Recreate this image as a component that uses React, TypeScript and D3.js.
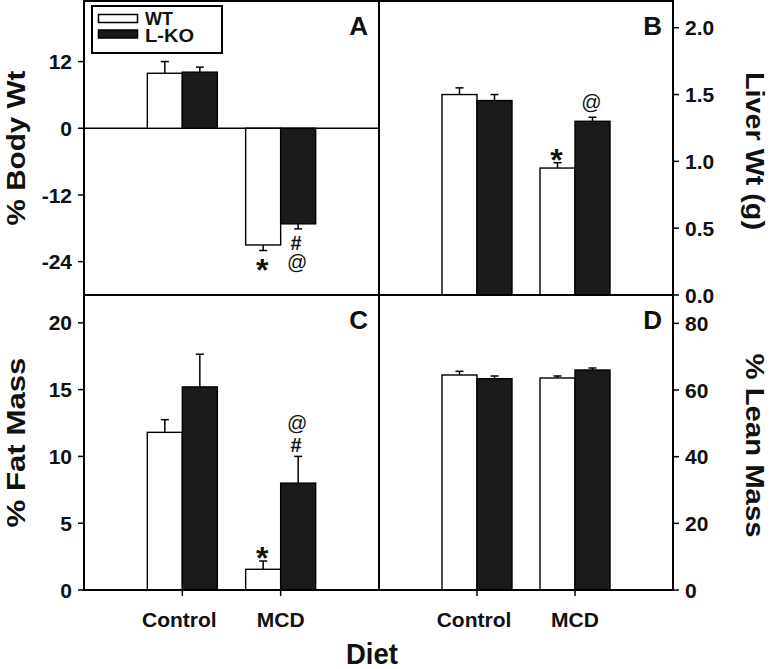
import React from "react";
import * as d3 from "d3";

// ---------- DATA ----------
const categories = ["Control", "MCD"];
const seriesNames = ["WT", "L-KO"];

const bodyWtWT = [9.9, -21.0];
const bodyWtWTErr = [2.1, 1.0];
const bodyWtKO = [10.1, -17.2];
const bodyWtKOErr = [0.9, 0.9];

const liverWT = [1.5, 0.95];
const liverWTErr = [0.05, 0.04];
const liverKO = [1.455, 1.3];
const liverKOErr = [0.045, 0.03];

const fatWT = [11.8, 1.55];
const fatWTErr = [0.95, 0.62];
const fatKO = [15.2, 8.0];
const fatKOErr = [2.45, 2.0];

const leanWT = [64.5, 63.6];
const leanWTErr = [1.1, 0.6];
const leanKO = [63.4, 66.0];
const leanKOErr = [0.8, 0.6];

const bodyTicks = [-24, -12, 0, 12];
const bodyTickLabels = ["-24", "-12", "0", "12"];
const liverTicks = [0, 0.5, 1, 1.5, 2];
const liverTickLabels = ["0.0", "0.5", "1.0", "1.5", "2.0"];
const fatTicks = [0, 5, 10, 15, 20];
const fatTickLabels = ["0", "5", "10", "15", "20"];
const leanTicks = [0, 20, 40, 60, 80];
const leanTickLabels = ["0", "20", "40", "60", "80"];

// significance marks: category index, series index, symbols (outward order)
const marksA = [
  { cat: 1, ser: 0, syms: ["*"] },
  { cat: 1, ser: 1, syms: ["#", "@"] },
];
const marksB = [
  { cat: 1, ser: 0, syms: ["*"] },
  { cat: 1, ser: 1, syms: ["@"] },
];
const marksC = [
  { cat: 1, ser: 0, syms: ["*"] },
  { cat: 1, ser: 1, syms: ["#", "@"] },
];
const marksD: { cat: number; ser: number; syms: string[] }[] = [];

// ---------- LAYOUT ----------
const W = 771;
const H = 669;
const FONT = "'Liberation Sans', Arial, Helvetica, sans-serif";
const XL = 84;
const XM = 379;
const XR = 673;
const YT = 1;
const YM = 295;
const YB = 590;
const BAR_W = 35;
const DARK = "#1a1a1a";

type Panel = {
  id: string;
  x0: number;
  x1: number;
  y0: number;
  y1: number;
  domain: [number, number];
  ticks: number[];
  tickLabels: string[];
  side: "left" | "right";
  wt: number[];
  wtErr: number[];
  ko: number[];
  koErr: number[];
  title: string;
  titleLen: number;
  marks: { cat: number; ser: number; syms: string[] }[];
  bottom: boolean;
};

const panels: Panel[] = [
  {
    id: "A", x0: XL, x1: XM, y0: YT, y1: YM, domain: [-30, 22.9],
    ticks: bodyTicks, tickLabels: bodyTickLabels, side: "left",
    wt: bodyWtWT, wtErr: bodyWtWTErr, ko: bodyWtKO, koErr: bodyWtKOErr,
    title: "% Body Wt", titleLen: 155, marks: marksA, bottom: false,
  },
  {
    id: "B", x0: XM, x1: XR, y0: YT, y1: YM, domain: [0, 2.2],
    ticks: liverTicks, tickLabels: liverTickLabels, side: "right",
    wt: liverWT, wtErr: liverWTErr, ko: liverKO, koErr: liverKOErr,
    title: "Liver Wt (g)", titleLen: 158, marks: marksB, bottom: false,
  },
  {
    id: "C", x0: XL, x1: XM, y0: YM, y1: YB, domain: [0, 22.08],
    ticks: fatTicks, tickLabels: fatTickLabels, side: "left",
    wt: fatWT, wtErr: fatWTErr, ko: fatKO, koErr: fatKOErr,
    title: "% Fat Mass", titleLen: 170, marks: marksC, bottom: true,
  },
  {
    id: "D", x0: XM, x1: XR, y0: YM, y1: YB, domain: [0, 88.5],
    ticks: leanTicks, tickLabels: leanTickLabels, side: "right",
    wt: leanWT, wtErr: leanWTErr, ko: leanKO, koErr: leanKOErr,
    title: "% Lean Mass", titleLen: 184, marks: marksD, bottom: true,
  },
];

function PanelView({ p }: { p: Panel }) {
  const x = d3.scalePoint<string>().domain(categories).range([p.x0, p.x1]).padding(1);
  const y = d3.scaleLinear().domain(p.domain).range([p.y1, p.y0]);
  const y0 = y(0);
  const series = [
    { vals: p.wt, errs: p.wtErr, fill: "#ffffff" },
    { vals: p.ko, errs: p.koErr, fill: DARK },
  ];
  const items: React.ReactNode[] = [];
  series.forEach((s, si) => {
    categories.forEach((c, ci) => {
      const cx = x(c)!;
      const bx = si === 0 ? cx - BAR_W : cx;
      const v = s.vals[ci];
      const e = s.errs[ci];
      const yv = y(v);
      const ye = v >= 0 ? y(v + e) : y(v - e);
      const mid = bx + BAR_W / 2;
      items.push(
        <g key={`b${si}${ci}`}>
          <line x1={mid} x2={mid} y1={yv} y2={ye} stroke="#000" strokeWidth={1.5} />
          <line x1={mid - 4} x2={mid + 4} y1={ye} y2={ye} stroke="#000" strokeWidth={1.5} />
          <rect
            x={bx}
            y={Math.min(yv, y0)}
            width={BAR_W}
            height={Math.abs(yv - y0)}
            fill={s.fill}
            stroke="#000"
            strokeWidth={1.4}
          />
        </g>
      );
    });
  });

  const marks: React.ReactNode[] = [];
  p.marks.forEach((m, mi) => {
    const s = series[m.ser];
    const cx = x(categories[m.cat])!;
    const bx = m.ser === 0 ? cx - BAR_W : cx;
    const mid = bx + BAR_W / 2;
    const v = s.vals[m.cat];
    const e = s.errs[m.cat];
    const neg = v < 0;
    const ye = neg ? y(v - e) : y(v + e);
    let edge = ye;
    const gap = neg ? 7 : 4;
    m.syms.forEach((sym, k) => {
      let fs = 20;
      let weight: any = "bold";
      let top = 0.72;
      let bot = 0;
      if (sym === "*") {
        fs = 32;
        top = 0.74;
        bot = 0.38;
      } else if (sym === "@") {
        fs = 20;
        weight = "normal";
        top = 0.74;
        bot = -0.2;
      }
      const g = k === 0 ? gap : 4;
      let baseline;
      if (neg) {
        const glyphTop = edge + g;
        baseline = glyphTop + top * fs;
        edge = baseline - bot * fs;
      } else {
        const glyphBottom = edge - g;
        baseline = glyphBottom + bot * fs;
        edge = baseline - top * fs;
      }
      const dx = sym === "*" ? -1 : sym === "#" ? -2 : -1;
      marks.push(
        <text
          key={`m${mi}${k}`}
          x={mid + dx}
          y={baseline}
          textAnchor="middle"
          fontSize={fs}
          fontWeight={weight}
          fontFamily={FONT}
          fill="#111"
        >
          {sym}
        </text>
      );
    });
  });

  const axisX = p.side === "left" ? p.x0 : p.x1;
  const dir = p.side === "left" ? -1 : 1;
  const titleX = p.side === "left" ? 25 : 746;
  const titleY = (p.y0 + p.y1) / 2 + (p.side === "left" ? 0 : 3);

  return (
    <g>
      {p.id === "A" && (
        <line x1={p.x0} x2={p.x1} y1={y0} y2={y0} stroke="#000" strokeWidth={1.5} />
      )}
      {items}
      {marks}
      {p.ticks.map((t, i) => (
        <g key={`t${i}`}>
          <line x1={axisX} x2={axisX + dir * 6} y1={y(t)} y2={y(t)} stroke="#000" strokeWidth={1.5} />
          <text
            x={axisX + dir * 12}
            y={y(t)}
            dy="0.36em"
            textAnchor={p.side === "left" ? "end" : "start"}
            fontSize={21}
            fontWeight="bold"
            fontFamily={FONT}
            fill="#111"
          >
            {p.tickLabels[i]}
          </text>
        </g>
      ))}
      {p.bottom &&
        categories.map((c) => (
          <g key={c}>
            <line x1={x(c)!} x2={x(c)!} y1={p.y1} y2={p.y1 + 6} stroke="#000" strokeWidth={1.5} />
            <text
              x={x(c)! - (c === "Control" ? 3 : 0)}
              y={627}
              textAnchor="middle"
              fontSize={21}
              fontWeight="bold"
              fontFamily={FONT}
              fill="#111"
            >
              {c}
            </text>
          </g>
        ))}
      <text
        x={p.x1 - 11}
        y={p.y0 + 34}
        textAnchor="end"
        fontSize={26}
        fontWeight="bold"
        fontFamily={FONT}
        fill="#111"
      >
        {p.id}
      </text>
      <text
        transform={`translate(${titleX},${titleY}) rotate(${p.side === "left" ? -90 : 90})`}
        textAnchor="middle"
        fontSize={25}
        fontWeight="bold"
        fontFamily={FONT}
        textLength={p.titleLen}
        lengthAdjust="spacingAndGlyphs"
        fill="#111"
      >
        {p.title}
      </text>
    </g>
  );
}

export default function App() {
  return (
    <svg
      width={W}
      height={H}
      viewBox={`0 0 ${W} ${H}`}
      style={{ position: "absolute", left: 0, top: 0, background: "#fff" }}
    >
      <rect x={0} y={0} width={W} height={H} fill="#fff" />
      {panels.map((p) => (
        <PanelView key={p.id} p={p} />
      ))}
      <g stroke="#000" strokeWidth={2} fill="none">
        <line x1={XL} x2={XR} y1={YT} y2={YT} />
        <line x1={XL} x2={XR} y1={YM} y2={YM} />
        <line x1={XL - 1} x2={XR + 1} y1={YB} y2={YB} />
        <line x1={XL} x2={XL} y1={YT - 1} y2={YB} />
        <line x1={XM} x2={XM} y1={YT - 1} y2={YB} />
        <line x1={XR} x2={XR} y1={YT - 1} y2={YB} />
      </g>
      <g>
        <rect x={92} y={6} width={130} height={47} fill="#fff" stroke="#000" strokeWidth={2} />
        <rect x={98.5} y={14.5} width={39} height={8} fill="#fff" stroke="#000" strokeWidth={1.5} />
        <rect x={98.5} y={30} width={39} height={8} fill={DARK} stroke="#000" strokeWidth={1.5} />
        <text x={145} y={25} fontSize={18} fontWeight="bold" fontFamily={FONT} fill="#111">
          {seriesNames[0]}
        </text>
        <text x={145} y={41.5} fontSize={18} fontWeight="bold" fontFamily={FONT} fill="#111"
          textLength={49} lengthAdjust="spacingAndGlyphs">
          {seriesNames[1]}
        </text>
      </g>
      <text
        x={372}
        y={664}
        textAnchor="middle"
        fontSize={29}
        fontWeight="bold"
        fontFamily={FONT}
        textLength={52}
        lengthAdjust="spacingAndGlyphs"
        fill="#111"
      >
        Diet
      </text>
    </svg>
  );
}
